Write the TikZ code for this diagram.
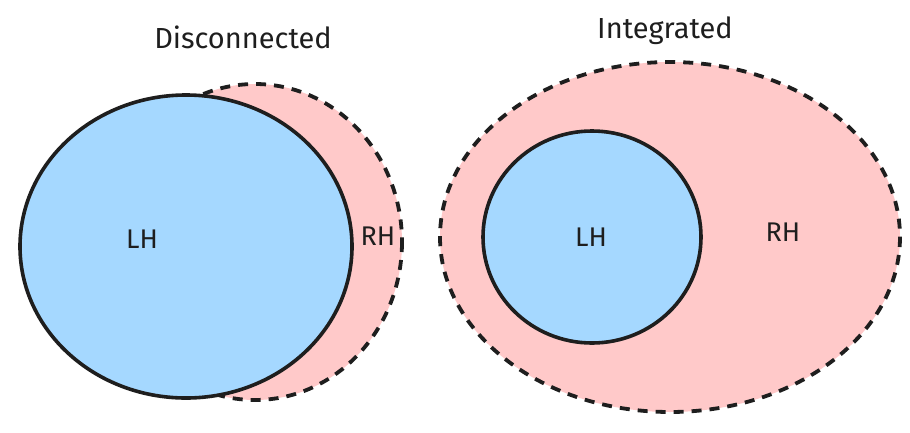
\documentclass[tikz,border=0pt]{standalone}
\usepackage{fontspec}
\setmainfont{Fira Sans}
\definecolor{lhblue}{HTML}{A5D8FF}
\definecolor{rhpink}{HTML}{FFC9C9}
\definecolor{ink}{HTML}{1E1E1E}
\begin{document}
\begin{tikzpicture}[x=1pt,y=-1pt,
  lhshape/.style={fill=lhblue, draw=ink, line width=3.6pt},
  rhshape/.style={fill=rhpink, draw=ink, line width=3.8pt, dash pattern=on 10pt off 8pt},
  lbl/.style={font=\fontsize{29}{34}\selectfont, text=ink, inner sep=0pt},
  sublbl/.style={font=\fontsize{27}{32}\selectfont, text=ink, inner sep=0pt}]
\useasboundingbox (0,0) rectangle (910,432);
% Disconnected
\draw[rhshape] (255,242) ellipse [x radius=147, y radius=158];
\draw[lhshape] (186,246.5) ellipse [x radius=166, y radius=151.5];
\node[lbl] (t1) at (243,37) {Disconnected};
\node[sublbl] (lh1) at (142,239) {LH};
\node[sublbl] (rh1) at (378,236) {RH};
% Integrated
\draw[rhshape] (670,237) ellipse [x radius=230, y radius=175];
\draw[lhshape] (592,237) ellipse [x radius=109, y radius=106];
\node[lbl] (t2) at (665,31) {Integrated};
\node[sublbl] (lh2) at (591,237) {LH};
\node[sublbl] (rh2) at (783,232) {RH};
\end{tikzpicture}
\end{document}
